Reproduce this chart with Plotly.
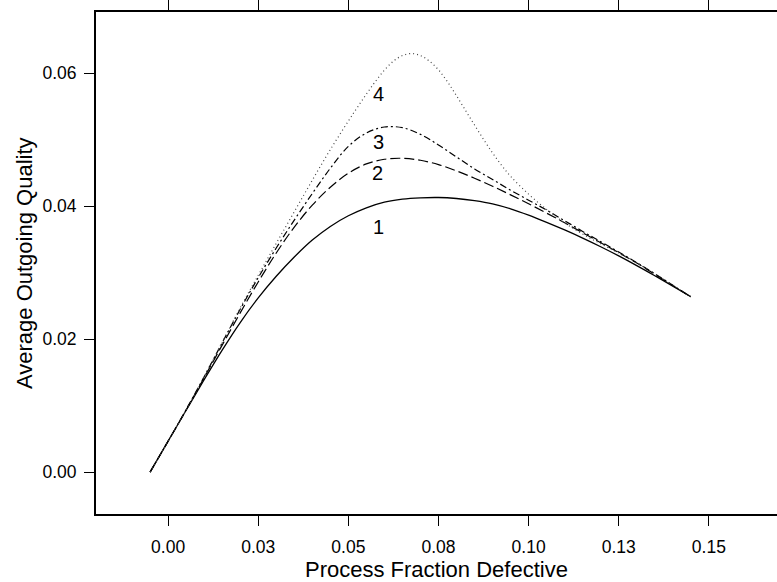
import plotly.graph_objects as go

# Process fraction defective (x) grid
p = [-0.005, 0.000, 0.005, 0.010, 0.015, 0.020, 0.025, 0.030, 0.035, 0.040,
     0.045, 0.050, 0.055, 0.060, 0.065, 0.070, 0.075, 0.080, 0.085, 0.090,
     0.095, 0.100, 0.105, 0.110, 0.115, 0.120, 0.125, 0.130, 0.135, 0.140, 0.145]

aoq1 = [0.0, 0.00465, 0.00930, 0.01390, 0.01835, 0.02250, 0.02620, 0.02945, 0.03235, 0.03490,
        0.03695, 0.03855, 0.03975, 0.04060, 0.04105, 0.04125, 0.04130, 0.04115, 0.04083, 0.04035,
        0.03960, 0.03865, 0.03757, 0.03642, 0.03520, 0.03390, 0.03252, 0.03106, 0.02954, 0.02798, 0.02638]

aoq2 = [0.0, 0.00465, 0.00934, 0.01420, 0.01910, 0.02395, 0.02860, 0.03295, 0.03685, 0.04015,
        0.04285, 0.04495, 0.04635, 0.04705, 0.04720, 0.04690, 0.04625, 0.04530, 0.04420, 0.04300,
        0.04170, 0.04035, 0.03895, 0.03750, 0.03600, 0.03450, 0.03300, 0.03145, 0.02975, 0.02805, 0.02637]

aoq3 = [0.0, 0.00465, 0.00940, 0.01435, 0.01945, 0.02450, 0.02925, 0.03370, 0.03790, 0.04190,
        0.04570, 0.04900, 0.05100, 0.05190, 0.05180, 0.05080, 0.04920, 0.04740, 0.04560, 0.04400,
        0.04240, 0.04090, 0.03940, 0.03780, 0.03620, 0.03465, 0.03310, 0.03150, 0.02985, 0.02810, 0.02637]

p4 = [-0.005, 0.000, 0.005, 0.010, 0.015, 0.020, 0.025, 0.030, 0.035, 0.040,
      0.045, 0.050, 0.0525, 0.055, 0.0575, 0.060, 0.0625, 0.065, 0.0675, 0.070,
      0.0725, 0.075, 0.0775, 0.080, 0.0825, 0.085, 0.0875, 0.090, 0.0925, 0.095,
      0.100, 0.105, 0.110, 0.115, 0.120, 0.125, 0.130, 0.135, 0.140, 0.145]

aoq4 = [0.0, 0.00465, 0.00935, 0.01435, 0.01950, 0.02470, 0.02960, 0.03440, 0.03915, 0.04390,
        0.04850, 0.05280, 0.05485, 0.05685, 0.05875, 0.06045, 0.06180, 0.06265, 0.06295, 0.06265,
        0.06180, 0.06050, 0.05870, 0.05660, 0.05440, 0.05220, 0.05005, 0.04800, 0.04615, 0.04450,
        0.04180, 0.03950, 0.03750, 0.03580, 0.03435, 0.03295, 0.03145, 0.02980, 0.02810, 0.02637]

x_tickvals = [0.0, 0.025, 0.05, 0.075, 0.10, 0.125, 0.15]
x_ticktext = ["0.00", "0.03", "0.05", "0.08", "0.10", "0.13", "0.15"]
y_tickvals = [0.0, 0.02, 0.04, 0.06]
y_ticktext = ["0.00", "0.02", "0.04", "0.06"]

curve_labels = ["1", "2", "3", "4"]
label_x = [0.0583, 0.0580, 0.0583, 0.0583]
label_y = [0.0368, 0.0450, 0.0497, 0.0568]

FONT = "Liberation Sans, Arial, sans-serif"

fig = go.Figure()
fig.add_trace(go.Scatter(x=p, y=aoq1, mode="lines", line=dict(color="black", width=1.3, shape="spline", smoothing=1)))
fig.add_trace(go.Scatter(x=p, y=aoq2, mode="lines", line=dict(color="black", width=1.2, dash="10px,4px", shape="spline", smoothing=1)))
fig.add_trace(go.Scatter(x=p, y=aoq3, mode="lines", line=dict(color="black", width=1.2, dash="7px,3px,2px,3px", shape="spline", smoothing=1)))
fig.add_trace(go.Scatter(x=p4, y=aoq4, mode="lines", line=dict(color="#444", width=1.2, dash="1px,3px", shape="spline", smoothing=1)))

for t, lx, ly in zip(curve_labels, label_x, label_y):
    fig.add_annotation(x=lx, y=ly, text=t, showarrow=False, xanchor="center", yanchor="middle",
                       font=dict(family=FONT, size=20, color="black"))

fig.add_annotation(x=0.5, y=0, xref="paper", yref="paper", text="Process Fraction Defective",
                   showarrow=False, xanchor="center", yanchor="middle", yshift=-55,
                   font=dict(family=FONT, size=22, color="black"))
fig.add_annotation(x=0, y=0.5, xref="paper", yref="paper", text="Average Outgoing Quality",
                   showarrow=False, xanchor="center", yanchor="middle", xshift=-72, textangle=-90,
                   font=dict(family=FONT, size=22, color="black"))

fig.update_layout(
    width=777, height=582,
    margin=dict(l=96, r=0, t=10, b=68, pad=0),
    paper_bgcolor="white", plot_bgcolor="white",
    showlegend=False,
    font=dict(family=FONT, size=17.5, color="black"),
    xaxis=dict(range=[-0.0200, 0.1689], tickvals=x_tickvals, ticktext=x_ticktext,
               ticks="outside", ticklen=10, tickwidth=1, tickcolor="black",
               showline=True, linecolor="black", linewidth=2, mirror="allticks",
               showgrid=False, zeroline=False, ticklabelstandoff=6),
    yaxis=dict(range=[-0.0063, 0.0692], tickvals=y_tickvals, ticktext=y_ticktext,
               ticks="outside", ticklen=10, tickwidth=1, tickcolor="black",
               showline=True, linecolor="black", linewidth=2, mirror=False,
               showgrid=False, zeroline=False, ticklabelstandoff=4),
)

fig.write_html("out.html", config={"displayModeBar": False},
               post_script="document.body.style.margin='0';document.body.style.overflow='hidden';")
